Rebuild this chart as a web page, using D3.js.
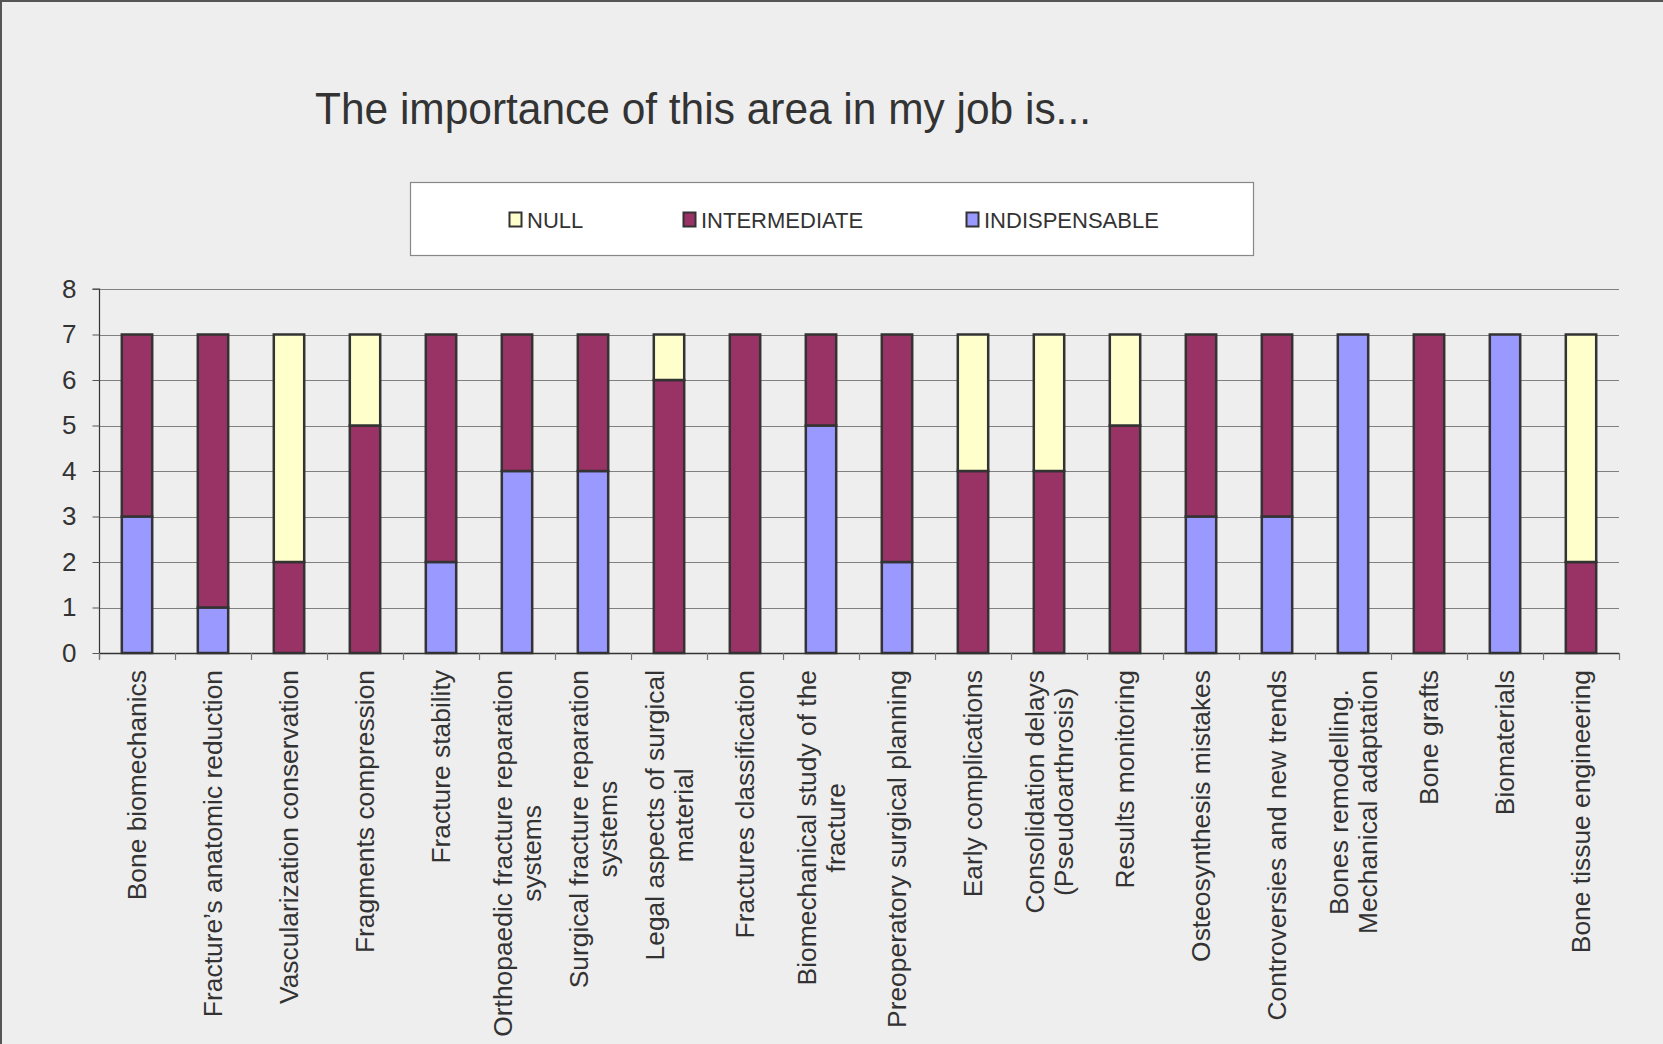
<!DOCTYPE html>
<html><head><meta charset="utf-8">
<script src="https://cdn.jsdelivr.net/npm/d3@7"></script>
<style>
html,body{margin:0;padding:0;background:#EEEEEE;}
svg{display:block;font-family:"Liberation Sans",Arial,sans-serif;}
</style></head>
<body>
<svg id="chart" width="1663" height="1044"></svg>
<script>
const categories = [
  ["Bone biomechanics"],
  ["Fracture\u2019s anatomic reduction"],
  ["Vascularization conservation"],
  ["Fragments compression"],
  ["Fracture stability"],
  ["Orthopaedic fracture reparation","systems"],
  ["Surgical fracture reparation","systems"],
  ["Legal aspects of surgical","material"],
  ["Fractures classification"],
  ["Biomechanical study of the","fracture"],
  ["Preoperatory surgical planning"],
  ["Early complications"],
  ["Consolidation delays","(Pseudoarthrosis)"],
  ["Results monitoring"],
  ["Osteosynthesis mistakes"],
  ["Controversies and new trends"],
  ["Bones remodelling.","Mechanical adaptation"],
  ["Bone grafts"],
  ["Biomaterials"],
  ["Bone tissue engineering"]
];
const indispensable = [3,1,0,0,2,4,4,0,0,5,2,0,0,0,3,3,7,0,7,0];
const intermediate  = [4,6,2,5,5,3,3,6,7,2,5,4,4,5,4,4,0,7,0,2];
const nullVals      = [0,0,5,2,0,0,0,1,0,0,0,3,3,2,0,0,0,0,0,5];
const seriesNames = ["INDISPENSABLE","INTERMEDIATE","NULL"];
const seriesColors = {"INDISPENSABLE":"#9999FF","INTERMEDIATE":"#993366","NULL":"#FFFFCC"};
const legendOrder = ["NULL","INTERMEDIATE","INDISPENSABLE"];
const yTicks = [0,1,2,3,4,5,6,7,8];
const title = "The importance of this area in my job is...";

const svg = d3.select("#chart");
const textColor = "#333333";

svg.append("rect").attr("x",0).attr("y",0).attr("width",1663).attr("height",1044).attr("fill","#EEEEEE");
svg.append("rect").attr("x",1).attr("y",1).attr("width",1800).attr("height",1200)
  .attr("fill","none").attr("stroke","#555").attr("stroke-width",2);

const plotL = 99, plotR = 1619, plotT = 289, plotB = 653;
const keys = categories.map((c,i)=>"c"+i);
const x = d3.scaleBand().domain(keys).range([plotL,plotR]).paddingInner(0.6).paddingOuter(0.3);
const y = d3.scaleLinear().domain([0,8]).range([plotB,plotT]);

// title
svg.append("text").attr("x",315).attr("y",124).attr("font-size",45).attr("fill",textColor)
  .attr("textLength",776).attr("lengthAdjust","spacingAndGlyphs").text(title);

// gridlines
svg.append("g").selectAll("line").data(yTicks.filter(d=>d>0)).join("line")
  .attr("x1",plotL).attr("x2",plotR)
  .attr("y1",d=>Math.round(y(d))+0.5).attr("y2",d=>Math.round(y(d))+0.5)
  .attr("stroke","#808080").attr("stroke-width",1.2);

// y axis
const yAxis = d3.axisLeft(y).tickValues(yTicks).tickSize(7).tickPadding(16).tickFormat(d3.format("d"));
const gy = svg.append("g").attr("transform",`translate(${plotL+0.5},0)`).call(yAxis);
gy.select(".domain").attr("stroke","#333").attr("stroke-width",1.2).attr("d",`M-7,${plotT}H0V${plotB+6}`);
gy.selectAll(".tick line").attr("stroke","#555");
gy.selectAll(".tick text").attr("font-size",26).attr("fill",textColor).attr("font-family","Liberation Sans, Arial, sans-serif");

// stacked bars
const rows = categories.map((c,i)=>({key:keys[i],INDISPENSABLE:indispensable[i],INTERMEDIATE:intermediate[i],NULL:nullVals[i]}));
const stack = d3.stack().keys(seriesNames)(rows);
svg.append("g").selectAll("g").data(stack).join("g")
  .attr("fill",d=>seriesColors[d.key])
  .selectAll("rect").data(d=>d.filter(s=>s[1]-s[0]>0)).join("rect")
  .attr("x",d=>x(d.data.key)).attr("width",x.bandwidth())
  .attr("y",d=>y(d[1])).attr("height",d=>y(d[0])-y(d[1]))
  .attr("stroke","#333").attr("stroke-width",2.5);

// x axis line + ticks
const step = x.step();
const bounds = d3.range(categories.length+1).map(i=>plotL + i*step);
svg.append("line").attr("x1",plotL).attr("x2",plotR).attr("y1",plotB+0.5).attr("y2",plotB+0.5)
  .attr("stroke","#333").attr("stroke-width",1.5);
svg.append("g").selectAll("line").data(bounds).join("line")
  .attr("x1",d=>Math.round(d)+0.5).attr("x2",d=>Math.round(d)+0.5)
  .attr("y1",plotB).attr("y2",plotB+7).attr("stroke","#777").attr("stroke-width",1.2);

// x labels
const labTop = 670, lh = 29.5, fs = 26.4;
const lg = svg.append("g");
categories.forEach((lines,i)=>{
  const cx = x(keys[i]) + x.bandwidth()/2;
  const t = lg.append("text").attr("font-size",fs).attr("fill",textColor).attr("text-anchor","middle");
  lines.forEach((ln,j)=>{
    t.append("tspan").attr("x",0).attr("y",(j-(lines.length-1)/2)*lh + fs*0.35).text(ln);
  });
  let maxW = 0;
  t.selectAll("tspan").each(function(){ maxW = Math.max(maxW,this.getComputedTextLength()); });
  t.attr("transform",`translate(${cx},${labTop+maxW/2}) rotate(-90)`);
});

// legend
svg.append("rect").attr("x",410.5).attr("y",182.5).attr("width",843).attr("height",73)
  .attr("fill","#FFFFFF").attr("stroke","#888").attr("stroke-width",1.2);
const legendX = {"NULL":509,"INTERMEDIATE":683,"INDISPENSABLE":966};
const lgItems = svg.append("g").selectAll("g").data(legendOrder).join("g")
  .attr("transform",d=>`translate(${legendX[d]},212)`);
lgItems.append("rect").attr("x",0.5).attr("y",0.5).attr("width",12).attr("height",14)
  .attr("fill",d=>seriesColors[d]).attr("stroke","#333").attr("stroke-width",2);
lgItems.append("text").attr("x",18).attr("y",15.5).attr("font-size",22).attr("fill",textColor).text(d=>d);
</script>
</body></html>
